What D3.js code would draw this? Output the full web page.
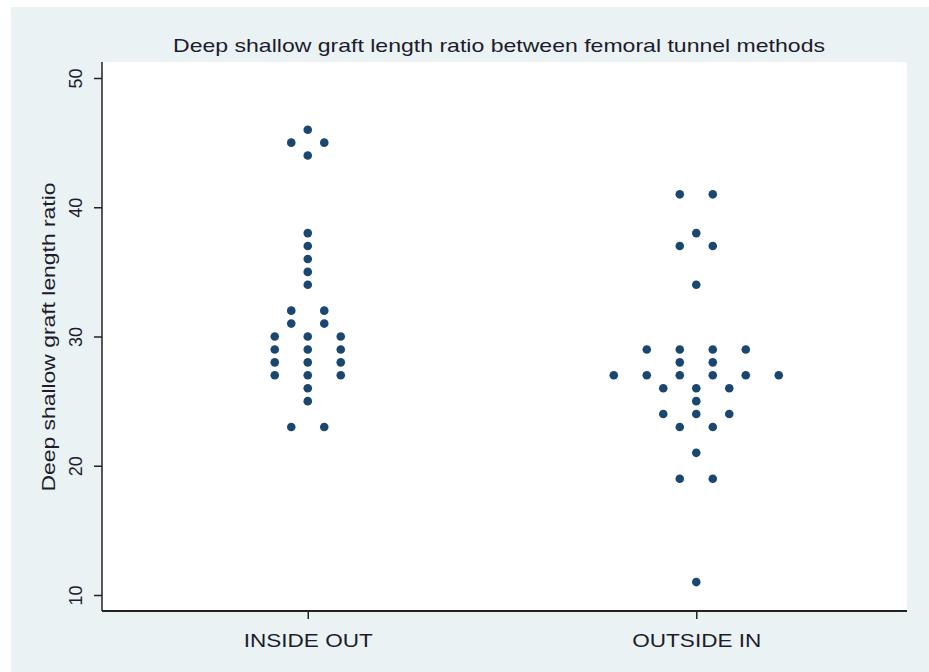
<!DOCTYPE html>
<html>
<head>
<meta charset="utf-8">
<script src="https://cdn.jsdelivr.net/npm/d3@7"></script>
<style>
  body { margin: 0; background: #fff; }
  text { font-family: 'Liberation Sans', Arial, sans-serif; fill: #1c1c2c; }
</style>
</head>
<body>
<div id="chart"></div>
<script>
const groups = ['INSIDE OUT', 'OUTSIDE IN']
const insideOut = [46, 45, 45, 44, 38, 37, 36, 35, 34, 32, 32, 31, 31,
  30, 30, 30, 29, 29, 29, 28, 28, 28, 27, 27, 27, 26, 25, 23, 23]
const outsideIn = [41, 41, 38, 37, 37, 34, 29, 29, 29, 29, 28, 28,
  27, 27, 27, 27, 27, 27, 26, 26, 26, 25, 24, 24, 24, 23, 23, 21, 19, 19, 11]
const yTicks = [10, 20, 30, 40, 50]
const title = 'Deep shallow graft length ratio between femoral tunnel methods'
const yTitle = 'Deep shallow graft length ratio'

const width = 929
const height = 672
const plot = { left: 102, right: 907, top: 62, bottom: 611 }
const dotGap = 33 // horizontal distance between stacked dots

const svg = d3.select('#chart').append('svg')
  .attr('width', width)
  .attr('height', height)

// graph region (stata style light blue-grey) and white plot region
svg.append('rect')
  .attr('x', 11).attr('y', 7)
  .attr('width', width - 11).attr('height', height - 7)
  .attr('fill', '#eaf2f3')
svg.append('rect')
  .attr('x', plot.left).attr('y', plot.top)
  .attr('width', plot.right - plot.left).attr('height', plot.bottom - plot.top)
  .attr('fill', '#fff')

const x = d3.scaleLinear()
  .domain([0.4704, 2.5424])
  .range([plot.left, plot.right])

const y = d3.scaleLinear()
  .domain([10, 50])
  .range([595, 78])

// y axis
const yAxis = svg.append('g')
  .attr('transform', `translate(${plot.left},0)`)
  .call(d3.axisLeft(y).tickValues(yTicks).tickSize(8).tickPadding(0))
yAxis.select('.domain')
  .attr('d', `M0,${plot.top}V${plot.bottom}`)
  .attr('stroke', '#222').attr('stroke-width', 1.5)
yAxis.selectAll('.tick line').attr('stroke', '#222').attr('stroke-width', 1.5)
yAxis.selectAll('.tick text')
  .attr('x', 0).attr('y', 0)
  .attr('transform', 'translate(-26,0) rotate(-90)')
  .attr('text-anchor', 'middle')
  .attr('dy', '0.35em')
  .style('font-size', '18px')
  .style('fill', '#1c1c2c')

// x axis
const xAxis = svg.append('g')
  .attr('transform', `translate(0,${plot.bottom})`)
  .call(d3.axisBottom(x).tickValues([1, 2]).tickFormat((d, i) => groups[i]).tickSize(8).tickPadding(15))
xAxis.select('.domain')
  .attr('d', `M${plot.left},0H${plot.right}`)
  .attr('stroke', '#222').attr('stroke-width', 2)
xAxis.selectAll('.tick line').attr('stroke', '#222').attr('stroke-width', 1.5)
xAxis.selectAll('.tick text')
  .style('font-size', '19px')
  .style('fill', '#1c1c2c')
  .attr('textLength', 129)
  .attr('lengthAdjust', 'spacingAndGlyphs')

// titles
svg.append('text')
  .attr('x', 499).attr('y', 52)
  .attr('text-anchor', 'middle')
  .style('font-size', '19px')
  .attr('textLength', 652)
  .attr('lengthAdjust', 'spacingAndGlyphs')
  .text(title)

svg.append('text')
  .attr('transform', 'translate(55,337) rotate(-90)')
  .attr('text-anchor', 'middle')
  .style('font-size', '18px')
  .attr('textLength', 309)
  .attr('lengthAdjust', 'spacingAndGlyphs')
  .text(yTitle)

// dots: stack equal values side by side, centred on the group
function layout (values, groupIndex) {
  const counts = d3.rollup(values, v => v.length, d => d)
  const seen = new Map()
  return values.map(v => {
    const n = counts.get(v)
    const i = seen.get(v) || 0
    seen.set(v, i + 1)
    return { value: v, group: groupIndex + 1, offset: (i - (n - 1) / 2) * dotGap }
  })
}
const dots = layout(insideOut, 0).concat(layout(outsideIn, 1))

svg.append('g')
  .selectAll('circle')
  .data(dots)
  .join('circle')
  .attr('cx', d => x(d.group) + d.offset)
  .attr('cy', d => y(d.value))
  .attr('r', 4.3)
  .attr('fill', '#1a476f')
</script>
</body>
</html>
